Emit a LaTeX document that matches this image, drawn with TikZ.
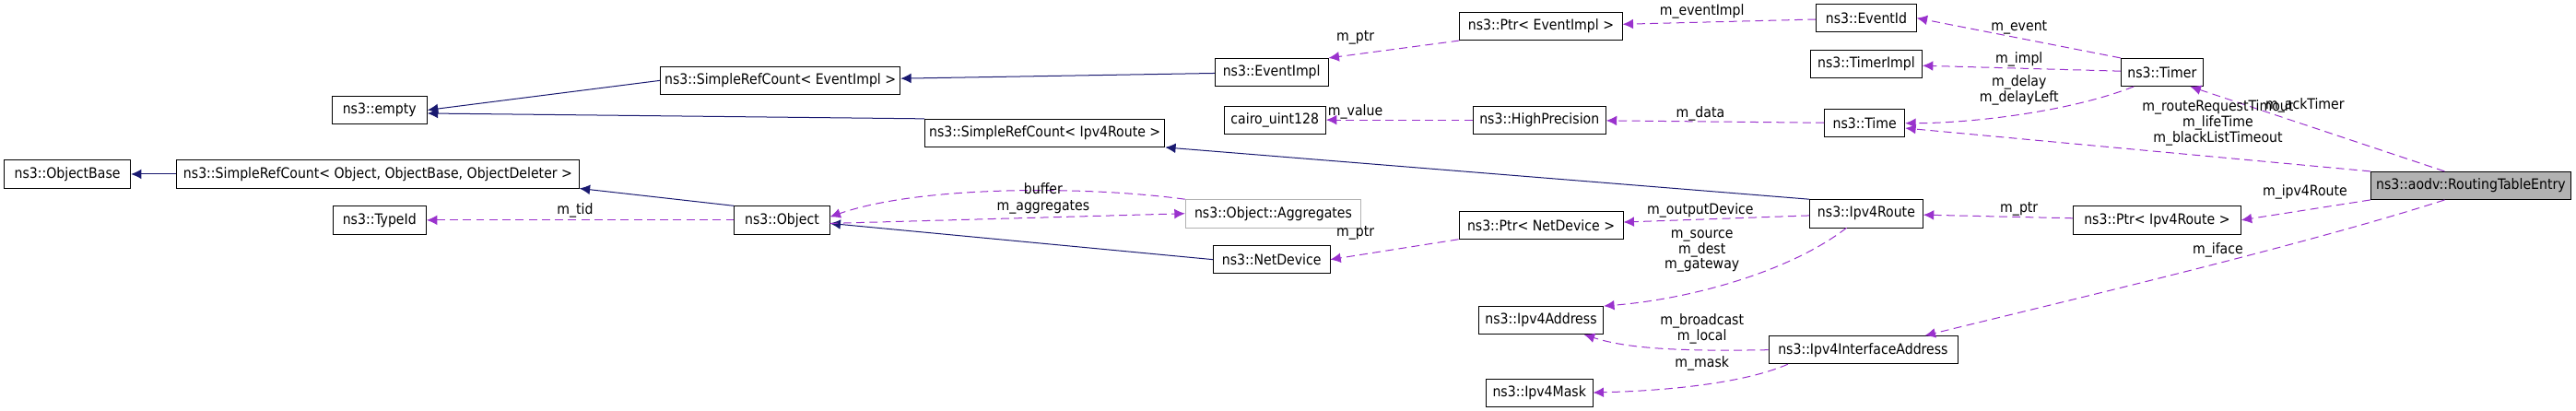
\documentclass[tikz,border=0pt]{standalone}
\usepackage{fontspec}
\setmainfont{DejaVu Sans Condensed}
\usetikzlibrary{arrows.meta}
\definecolor{inherit}{RGB}{25,25,112}
\definecolor{member}{RGB}{154,50,205}
\tikzset{
  cls/.style={draw=black, semithick, fill=white, minimum width=#1*0.5mm,
    minimum height=8.5mm, inner sep=0pt, font=\fontsize{12.5}{14}\selectfont},
  base/.style={draw=inherit, thick, -{Latex[length=3.2mm,width=3mm]}},
  use/.style={draw=member, thick, dashed, dash pattern=on 2.5mm off 1.5mm, -{Latex[length=3.2mm,width=3mm]}},
  lbl/.style={font=\fontsize{12.5}{11}\selectfont, align=center, inner sep=0pt}
}
\begin{document}
\begin{tikzpicture}[x=0.5mm, y=-0.5mm]
  \useasboundingbox (0,0) rectangle (1568,250);
  % classes, left to right
  \node[cls=77] (objbase) at (41,106) {ns3::ObjectBase};
  \node[cls=245] (srcobj) at (230,106) {ns3::SimpleRefCount< Object, ObjectBase, ObjectDeleter >};
  \node[cls=58] (empty) at (231,67) {ns3::empty};
  \node[cls=57] (typeid) at (231,134) {ns3::TypeId};
  \node[cls=146] (srcevt) at (475,49) {ns3::SimpleRefCount< EventImpl >};
  \node[cls=146] (srcrt) at (636,81) {ns3::SimpleRefCount< Ipv4Route >};
  \node[cls=58] (object) at (476,134) {ns3::Object};
  \node[cls=107, draw=gray!60] (aggr) at (775,130) {ns3::Object::Aggregates};
  \node[cls=69] (evtimpl) at (774,44) {ns3::EventImpl};
  \node[cls=62] (cairo) at (776,73) {cairo\_uint128};
  \node[cls=71] (netdev) at (774,158) {ns3::NetDevice};
  \node[cls=99] (ptrevt) at (938,16) {ns3::Ptr< EventImpl >};
  \node[cls=81] (hiprec) at (937,73) {ns3::HighPrecision};
  \node[cls=100] (ptrnd) at (938,137) {ns3::Ptr< NetDevice >};
  \node[cls=76] (addr) at (938,195) {ns3::Ipv4Address};
  \node[cls=65] (mask) at (937,239) {ns3::Ipv4Mask};
  \node[cls=61] (evtid) at (1136,11) {ns3::EventId};
  \node[cls=68] (timpl) at (1136,39) {ns3::TimerImpl};
  \node[cls=49] (time) at (1135,75) {ns3::Time};
  \node[cls=69] (route) at (1136,130) {ns3::Ipv4Route};
  \node[cls=115] (ifaddr) at (1134,213) {ns3::Ipv4InterfaceAddress};
  \node[cls=50] (timer) at (1316,44) {ns3::Timer};
  \node[cls=102] (ptrrt) at (1313,134) {ns3::Ptr< Ipv4Route >};
  \node[cls=122, fill=gray!60] (entry) at (1504,113) {ns3::aodv::RoutingTableEntry};

  % inheritance
  \draw[base] (srcobj) -- (objbase);
  \draw[base] (srcevt.west) -- (empty.east);
  \draw[base] (srcrt.north west) -- ([yshift=-1mm]empty.east);
  \draw[base] (object.north west) -- (srcobj.south east);
  \draw[base] (evtimpl) -- (srcevt);
  \draw[base] (route.north west) -- (srcrt.south east);
  \draw[base] (netdev.west) -- ([yshift=-1mm]object.east);

  % members
  \draw[use] (object) -- (typeid);
  \draw[use] (aggr.north west) .. controls (660,113) and (560,113) .. ([yshift=1mm]object.east);
  \draw[use] ([yshift=-1mm]object.east) -- (aggr.west);
  \draw[use] (ptrevt.south west) -- (evtimpl.north east);
  \draw[use] (hiprec) -- (cairo);
  \draw[use] (ptrnd.south west) -- (netdev.east);
  \draw[use] (evtid) -- (ptrevt);
  \draw[use] (time) -- (hiprec);
  \draw[use] (route) -- (ptrnd);
  \draw[use] ([xshift=-6mm]route.south) .. controls (1090,165) and (1030,182) .. (addr.north east);
  \draw[use] (ifaddr.west) .. controls (1020,214) and (990,212) .. ([xshift=-6mm]addr.south east);
  \draw[use] ([xshift=6mm]ifaddr.south west) .. controls (1060,234) and (1010,238) .. (mask.east);
  \draw[use] (timer.north west) -- (evtid.east);
  \draw[use] (timer) -- (timpl);
  \draw[use] ([xshift=4mm]timer.south west) .. controls (1260,68) and (1200,75) .. (time.east);
  \draw[use] (entry.north west) -- ([yshift=-1.5mm]time.east);
  \draw[use] ([xshift=-8mm]entry.north) -- ([xshift=-4mm]timer.south east);
  \draw[use] (entry.south west) -- (ptrrt.east);
  \draw[use] (ptrrt) -- (route);
  \draw[use] ([xshift=-8mm]entry.south) .. controls (1400,150) and (1250,185) .. ([xshift=-10mm]ifaddr.north east);

  % member labels
  \node[lbl] (ltid) at (350,128) {m\_tid};
  \node[lbl] (lbuf) at (635,115) {buffer};
  \node[lbl] (lagg) at (635,126) {m\_aggregates};
  \node[lbl] (lpev) at (825,23) {m\_ptr};
  \node[lbl] (lval) at (825,68) {m\_value};
  \node[lbl] (lpnd) at (825,142) {m\_ptr};
  \node[lbl] (levi) at (1036,7) {m\_eventImpl};
  \node[lbl] (ldat) at (1035,69) {m\_data};
  \node[lbl] (lout) at (1035,128) {m\_outputDevice};
  \node[lbl] (lsrc) at (1036,153) {m\_source\\m\_dest\\m\_gateway};
  \node[lbl] (lbrc) at (1036,200) {m\_broadcast\\m\_local};
  \node[lbl] (lmsk) at (1036,221) {m\_mask};
  \node[lbl] (levt) at (1229,17) {m\_event};
  \node[lbl] (limp) at (1229,36) {m\_impl};
  \node[lbl] (ldel) at (1229,55) {m\_delay\\m\_delayLeft};
  \node[lbl] (lack) at (1403,64) {m\_ackTimer};
  \node[lbl] (lrrt) at (1350,75) {m\_routeRequestTimout\\m\_lifeTime\\m\_blackListTimeout};
  \node[lbl] (lrte) at (1403,117) {m\_ipv4Route};
  \node[lbl] (lptr) at (1229,127) {m\_ptr};
  \node[lbl] (lifc) at (1350,152) {m\_iface};
\end{tikzpicture}
\end{document}
